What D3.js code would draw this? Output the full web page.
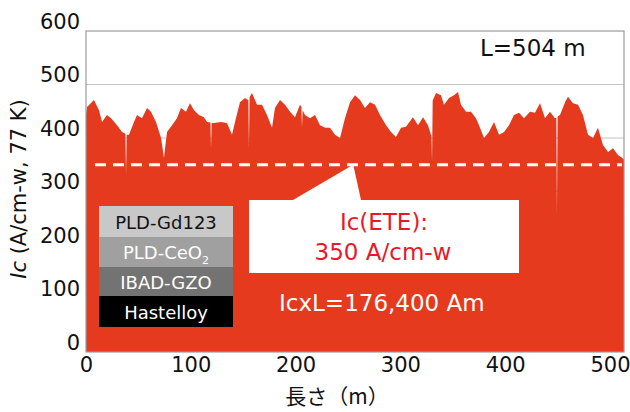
<!DOCTYPE html>
<html>
<head>
<meta charset="utf-8">
<script src="https://cdn.jsdelivr.net/npm/d3@7"></script>
<style>
  body { margin: 0; background: #fff; }
  svg { display: block; }
  text { font-family: "DejaVu Sans", sans-serif; }
</style>
</head>
<body>
<div id="chart"></div>
<script>
// chart data (position along tape in m, Ic in A/cm-w)
const pos = [
  0, 1, 7.6, 12.4, 15.3, 20, 23.9, 29.6, 34.4, 37.6, 38.2, 38.8, 41, 45.8, 48.7,
  53.4, 58.2, 62, 66.8, 71.6, 74.4, 77.3, 82.1, 86.8, 90.6, 95.4, 99.2, 103.1,
  107.8, 112.6, 115.5, 118.7, 119.3, 119.9, 122.1, 128.8, 134.5, 139.3, 142.2,
  146.9, 151.7, 154.6, 154.9, 155.5, 156.1, 158.4, 163.2, 167.9, 172.7, 177.5,
  180.3, 185.1, 189.9, 194.7, 199.4, 204.2, 205.5, 206.1, 206.7, 209, 213.7,
  218.5, 223.3, 228.1, 232.8, 237.6, 242.4, 247.1, 251.9, 256.7, 261.5, 266.2,
  271, 275.8, 280.5, 286.3, 291, 295.8, 300.6, 305.3, 312, 316.8, 321.6, 326.3,
  329.2, 329.6, 330.2, 330.8, 334, 338.7, 341.6, 346.4, 351.1, 355, 357.8,
  362.6, 367.4, 372.1, 375, 379.8, 384.5, 389.3, 394.1, 398.9, 403.6, 408.4,
  413.2, 417.9, 423.7, 428.4, 433.2, 438, 442.7, 447.5, 448.8, 449.4, 450,
  452.3, 457.1, 459.9, 464.7, 469.5, 474.2, 479, 483.8, 488.5, 493.3, 498.1,
  502.9, 507.6, 511.5, 513.4
];
const ic = [
  445, 458, 471, 452, 430, 443, 437, 424, 411, 408, 331, 406, 406, 430, 443,
  437, 456, 449, 430, 400, 363, 411, 424, 437, 456, 449, 465, 452,
  443, 439, 430, 429, 381, 428, 428, 430, 428, 406, 430,
  467, 475, 471, 472, 381, 476, 484, 462, 462, 443, 419,
  456, 471, 462, 449, 439, 462, 458, 419, 452, 443, 437,
  443, 424, 419, 419, 406, 400, 437, 467, 480, 471, 456,
  467, 462, 443, 424, 411, 402, 419, 421, 439, 424, 439, 424,
  406, 404, 355, 470, 484, 480, 462, 475, 480, 486, 462,
  449, 449, 437, 424, 400, 411, 430, 406, 411, 424, 443,
  447, 437, 449, 447, 465, 437, 449, 437, 438, 256, 440,
  443, 467, 477, 465, 462, 443, 406, 400, 419, 387, 374,
  381, 368, 363, 360
];
const ieteLevel = 350;
const xTicks = [0, 100, 200, 300, 400, 500];
const yTicks = [0, 100, 200, 300, 400, 500, 600];
const layers = ["PLD-Gd123", "PLD-CeO2", "IBAD-GZO", "Hastelloy"];
const layerFill = ["#c8c8c8", "#a0a0a0", "#737373", "#000000"];
const layerText = ["#111", "#fff", "#fff", "#fff"];

const W = 630, H = 412;
const PLOT = { left: 86, right: 624, top: 31, bottom: 352 };

const svg = d3.select("#chart").append("svg")
  .attr("width", W).attr("height", H);

const x = d3.scaleLinear().domain([0, 500]).range([PLOT.left, 610]);
const y = d3.scaleLinear().domain([0, 600]).range([PLOT.bottom, PLOT.top]);

// grid lines
svg.append("g")
  .selectAll("line")
  .data(yTicks.slice(1, -1))
  .join("line")
  .attr("x1", PLOT.left).attr("x2", PLOT.right)
  .attr("y1", (d) => y(d)).attr("y2", (d) => y(d))
  .attr("stroke", "#c4c4c4").attr("stroke-width", 1.2);

// Ic profile
const data = pos.map((p, i) => ({ p, v: ic[i] }));
svg.append("path")
  .datum(data)
  .attr("fill", "#e53a1d")
  .attr("d", d3.area()
    .x((d) => x(d.p))
    .y0(y(0))
    .y1((d) => y(d.v)));

// frame
svg.append("rect")
  .attr("x", PLOT.left).attr("y", PLOT.top)
  .attr("width", PLOT.right - PLOT.left)
  .attr("height", PLOT.bottom - PLOT.top)
  .attr("fill", "none")
  .attr("stroke", "#9a9a9a").attr("stroke-width", 1.2);

// Ic(ETE) dashed level
svg.append("line")
  .attr("x1", 95).attr("x2", PLOT.right - 2)
  .attr("y1", y(ieteLevel)).attr("y2", y(ieteLevel))
  .attr("stroke", "#fff").attr("stroke-width", 3.2)
  .attr("stroke-dasharray", "11,7");

// axes
const yAxis = svg.append("g")
  .attr("transform", `translate(${PLOT.left},0)`)
  .call(d3.axisLeft(y).tickValues(yTicks).tickSize(0).tickPadding(6));
yAxis.select(".domain").remove();
yAxis.selectAll("text")
  .attr("dy", "-3px")
  .attr("fill", "#111")
  .style("font-size", "21px");

const xAxis = svg.append("g")
  .attr("transform", `translate(0,${PLOT.bottom})`)
  .call(d3.axisBottom(x).tickValues(xTicks).tickSize(0).tickPadding(0));
xAxis.select(".domain").remove();
xAxis.selectAll("text")
  .attr("dy", "20px")
  .attr("fill", "#111")
  .style("font-size", "21px");

// axis titles
const yTitle = svg.append("text")
  .attr("transform", "translate(26,189) rotate(-90)")
  .attr("text-anchor", "middle")
  .attr("fill", "#111")
  .style("font-size", "21px");
yTitle.append("tspan").attr("font-style", "italic").text("Ic");
yTitle.append("tspan").text(" (A/cm-w, 77 K)");

svg.append("text")
  .attr("x", 337).attr("y", 404)
  .attr("text-anchor", "middle")
  .attr("fill", "#111")
  .style("font-family", "'Noto Sans CJK JP', sans-serif")
  .style("font-size", "21px")
  .text("長さ（m）");

// length label
svg.append("text")
  .attr("x", 480).attr("y", 56)
  .attr("fill", "#111")
  .style("font-size", "23px")
  .text("L=504 m");

// layer stack
const stack = svg.append("g");
const rowH = [31, 30, 29, 31];
let rowTop = 206;
layers.forEach((name, i) => {
  stack.append("rect")
    .attr("x", 99).attr("y", rowTop)
    .attr("width", 134).attr("height", rowH[i])
    .attr("fill", layerFill[i]);
  const t = stack.append("text")
    .attr("x", 166).attr("y", rowTop + rowH[i] / 2 + 7)
    .attr("text-anchor", "middle")
    .attr("fill", layerText[i])
    .style("font-size", "18px");
  if (name === "PLD-CeO2") {
    t.append("tspan").text("PLD-CeO");
    t.append("tspan").attr("dy", "5px").style("font-size", "11px").text("2");
  } else {
    t.text(name);
  }
  rowTop += rowH[i];
});

// callout
const tipX = x(255), tipY = y(ieteLevel);
svg.append("path")
  .attr("d", `M249,200 L293,200 L${tipX},${tipY} L361,200 L519,200 L519,273 L249,273 Z`)
  .attr("fill", "#fff");
svg.append("text")
  .attr("x", 384).attr("y", 230)
  .attr("text-anchor", "middle")
  .attr("fill", "#e8182a")
  .style("font-size", "23px")
  .text("Ic(ETE):");
svg.append("text")
  .attr("x", 383).attr("y", 260)
  .attr("text-anchor", "middle")
  .attr("fill", "#e8182a")
  .style("font-size", "23px")
  .text("350 A/cm-w");

svg.append("text")
  .attr("x", 279).attr("y", 311)
  .attr("fill", "#fff")
  .style("font-size", "23px")
  .text("IcxL=176,400 Am");
</script>
</body>
</html>
